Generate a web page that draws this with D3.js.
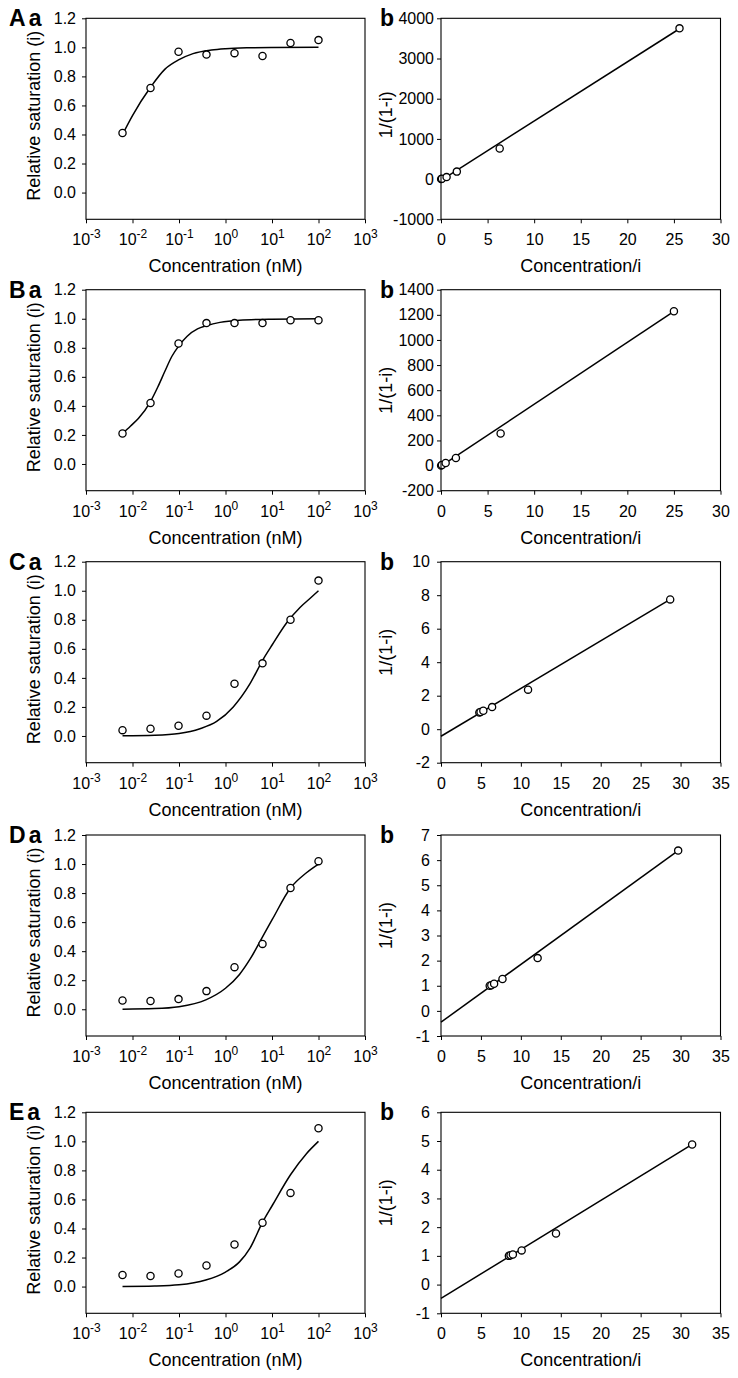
<!DOCTYPE html>
<html><head><meta charset="utf-8">
<script src="https://cdn.jsdelivr.net/npm/d3@7"></script>
<style>body{margin:0;background:#fff}svg{display:block}</style>
</head><body>
<svg id="chart" width="738" height="1378"></svg>
<script>
// ---------------- DATA ----------------
const panelLetters = ["A", "B", "C", "D", "E"];
const concentration = [0.0061, 0.0244, 0.0977, 0.39, 1.5625, 6.25, 25, 100];
const logTicks = [1e-3, 1e-2, 1e-1, 1e0, 1e1, 1e2, 1e3];
const satTicks = [0.0, 0.2, 0.4, 0.6, 0.8, 1.0, 1.2];

const satA = [0.41, 0.72, 0.97, 0.95, 0.96, 0.94, 1.03, 1.05];
const satB = [0.21, 0.42, 0.83, 0.97, 0.97, 0.97, 0.99, 0.99];
const satC = [0.04, 0.05, 0.07, 0.14, 0.36, 0.50, 0.80, 1.07];
const satD = [0.06, 0.057, 0.07, 0.125, 0.29, 0.45, 0.835, 1.02];
const satE = [0.08, 0.073, 0.09, 0.145, 0.29, 0.44, 0.645, 1.09];

// fitted curves: [concentration, saturation]
const fitA = [[0.0061,0.40],[0.01,0.53],[0.0244,0.725],[0.05,0.85],[0.1,0.915],[0.2,0.957],[0.5,0.982],[1,0.991],[3,0.997],[10,0.999],[100,1.0]];
const fitB = [[0.0061,0.21],[0.009,0.26],[0.0135,0.315],[0.0244,0.43],[0.035,0.53],[0.05,0.64],[0.07,0.74],[0.1,0.815],[0.15,0.88],[0.25,0.93],[0.39,0.952],[0.76,0.975],[2,0.99],[10,0.997],[100,1.0]];
const fitC = [[0.0061,0.001],[0.03,0.005],[0.1,0.017],[0.283,0.05],[0.645,0.10],[1.47,0.2],[3.37,0.36],[6.5,0.53],[10.2,0.63],[20.7,0.78],[40,0.885],[70,0.955],[100,1.0]];
const fitD = [[0.0061,0.001],[0.03,0.005],[0.1,0.018],[0.377,0.065],[1,0.145],[2,0.24],[3.37,0.345],[6.3,0.5],[10.2,0.62],[25,0.835],[55,0.94],[100,1.0]];
const fitE = [[0.0061,0.001],[0.03,0.004],[0.1,0.012],[0.377,0.045],[1,0.10],[2,0.17],[3.37,0.265],[6.2,0.44],[10.2,0.56],[25,0.77],[55,0.915],[100,1.0]];

// right panels: Concentration/i vs 1/(1-i)
const bxA = [0.015, 0.1, 0.6, 1.7, 6.3, 25.6];
const byA = [1, 8, 50, 186, 760, 3750];
const bxB = [0.015, 0.1, 0.5, 1.6, 6.4, 25.0];
const byB = [1, 5, 20, 60, 255, 1228];
const bxC = [4.8, 4.95, 5.3, 6.4, 10.9, 28.7];
const byC = [1.0, 1.03, 1.1, 1.32, 2.36, 7.75];
const bxD = [6.1, 6.3, 6.65, 7.7, 12.1, 29.7];
const byD = [1.0, 1.02, 1.08, 1.27, 2.1, 6.38];
const bxE = [8.5, 8.7, 9.0, 10.1, 14.4, 31.45];
const byE = [1.0, 1.02, 1.05, 1.19, 1.78, 4.88];

// regression lines: [x, y] endpoints
const lineA = [[0, -30], [25.6, 3740]];
const lineB = [[0, -5], [25.0, 1228]];
const lineC = [[0, -0.42], [28.7, 7.75]];
const lineD = [[0, -0.45], [29.7, 6.38]];
const lineE = [[0, -0.48], [31.45, 4.88]];

// axis domains and ticks for right panels
const bxDomains = [[0, 30], [0, 30], [0, 35], [0, 35], [0, 35]];
const byDomains = [[-1000, 4000], [-200, 1400], [-2, 10], [-1, 7], [-1, 6]];
const bxTicks = [[0,5,10,15,20,25,30],[0,5,10,15,20,25,30],[0,5,10,15,20,25,30,35],[0,5,10,15,20,25,30,35],[0,5,10,15,20,25,30,35]];
const byTicks = [[-1000,0,1000,2000,3000,4000],[-200,0,200,400,600,800,1000,1200,1400],[-2,0,2,4,6,8,10],[-1,0,1,2,3,4,5,6,7],[-1,0,1,2,3,4,5,6]];

const leftTitleX = "Concentration (nM)";
const leftTitleY = "Relative saturation (i)";
const rightTitleX = "Concentration/i";
const rightTitleY = "1/(1-i)";

// ---------------- LAYOUT ----------------
const sats = [satA, satB, satC, satD, satE];
const fits = [fitA, fitB, fitC, fitD, fitE];
const bxs = [bxA, bxB, bxC, bxD, bxE];
const bys = [byA, byB, byC, byD, byE];
const lines = [lineA, lineB, lineC, lineD, lineE];

const FONT = "'Liberation Sans', Arial, Helvetica, sans-serif";
const rowTop = [18.3, 289.7, 561.7, 835, 1112.3];
const PH = 201;
const LX = [86, 365];
const RX = [441, 720.5];
const rightYPad = [3, 3, 7, 7, 7];
const rightYLabelShift = [-4, 0, -10, -10, -10];
const TICKFS = 16;
const TITLEFS = 18;
const INK = "#000";

const svg = d3.select("#chart");

function styleAxis(g, fs) {
  g.select(".domain").remove();
  g.selectAll(".tick line").attr("stroke", INK).attr("stroke-width", 1);
  g.selectAll(".tick text").attr("font-family", FONT).attr("font-size", fs).attr("fill", INK);
}

function frame(x0, x1, y0, y1) {
  svg.append("rect").attr("x", x0).attr("y", y0).attr("width", x1 - x0).attr("height", y1 - y0)
    .attr("fill", "none").attr("stroke", INK).attr("stroke-width", 1.1);
}

panelLetters.forEach((letter, i) => {
  const top = rowTop[i], bottom = top + PH;

  // ---------- left panel (a) ----------
  const x = d3.scaleLog().domain([1e-3, 1e3]).range(LX);
  const y = d3.scaleLinear().domain([-0.184, 1.2]).range([bottom, top]);

  const gx = svg.append("g").attr("transform", `translate(0,${bottom})`)
    .call(d3.axisBottom(x).tickValues(logTicks).tickSize(4).tickFormat(() => ""));
  styleAxis(gx, TICKFS);
  gx.selectAll(".tick text").attr("y", 26).attr("dy", null).each(function(d) {
    const t = d3.select(this);
    t.append("tspan").text("10");
    t.append("tspan").attr("dy", -7).attr("font-size", 12).text(String(Math.round(Math.log10(d))));
  });

  const gy = svg.append("g").attr("transform", `translate(${LX[0]},0)`)
    .call(d3.axisLeft(y).tickValues(satTicks).tickSize(4).tickPadding(6).tickFormat(d3.format(".1f")));
  styleAxis(gy, TICKFS);

  svg.append("path").datum(fits[i])
    .attr("d", d3.line().x(d => x(d[0])).y(d => y(d[1])).curve(d3.curveMonotoneX))
    .attr("fill", "none").attr("stroke", INK).attr("stroke-width", 1.5);

  svg.append("g").selectAll("circle").data(concentration.map((c, k) => [c, sats[i][k]])).join("circle")
    .attr("cx", d => x(d[0])).attr("cy", d => y(d[1])).attr("r", 3.6)
    .attr("fill", "#fff").attr("stroke", INK).attr("stroke-width", 1.3);

  frame(LX[0], LX[1], top, bottom);

  svg.append("text").attr("x", (LX[0] + LX[1]) / 2).attr("y", bottom + 53)
    .attr("text-anchor", "middle").attr("font-family", FONT).attr("font-size", TITLEFS).attr("fill", INK)
    .text(leftTitleX);
  svg.append("text").attr("transform", `translate(40,${(top + bottom) / 2 - 3}) rotate(-90)`)
    .attr("text-anchor", "middle").attr("font-family", FONT).attr("font-size", TITLEFS).attr("fill", INK)
    .text(leftTitleY);

  const lt = svg.append("text").attr("x", 9).attr("y", top + 8)
    .attr("font-family", FONT).attr("font-size", 23).attr("font-weight", "bold").attr("fill", INK);
  lt.append("tspan").text(letter);
  lt.append("tspan").attr("dx", 3).text("a");

  // ---------- right panel (b) ----------
  const xr = d3.scaleLinear().domain(bxDomains[i]).range(RX);
  const yr = d3.scaleLinear().domain(byDomains[i]).range([bottom, top]);

  const gxr = svg.append("g").attr("transform", `translate(0,${bottom})`)
    .call(d3.axisBottom(xr).tickValues(bxTicks[i]).tickSize(4));
  styleAxis(gxr, TICKFS);
  gxr.selectAll(".tick text").attr("y", 26).attr("dy", null);

  const gyr = svg.append("g").attr("transform", `translate(${RX[0]},0)`)
    .call(d3.axisLeft(yr).tickValues(byTicks[i]).tickSize(4).tickPadding(rightYPad[i]).tickFormat(d3.format("d")));
  styleAxis(gyr, TICKFS);
  gyr.selectAll(".tick text").text(d => String(d));

  svg.append("path").datum(lines[i])
    .attr("d", d3.line().x(d => xr(d[0])).y(d => yr(d[1])))
    .attr("fill", "none").attr("stroke", INK).attr("stroke-width", 1.5);

  svg.append("g").selectAll("circle").data(bxs[i].map((v, k) => [v, bys[i][k]])).join("circle")
    .attr("cx", d => xr(d[0])).attr("cy", d => yr(d[1])).attr("r", 3.6)
    .attr("fill", "#fff").attr("stroke", INK).attr("stroke-width", 1.3);

  frame(RX[0], RX[1], top, bottom);

  svg.append("text").attr("x", (RX[0] + RX[1]) / 2).attr("y", bottom + 53)
    .attr("text-anchor", "middle").attr("font-family", FONT).attr("font-size", TITLEFS).attr("fill", INK)
    .text(rightTitleX);
  svg.append("text").attr("transform", `translate(392,${(top + bottom) / 2 + rightYLabelShift[i]}) rotate(-90)`)
    .attr("text-anchor", "middle").attr("font-family", FONT).attr("font-size", TITLEFS).attr("fill", INK)
    .text(rightTitleY);

  svg.append("text").attr("x", 380).attr("y", top + 8)
    .attr("font-family", FONT).attr("font-size", 23).attr("font-weight", "bold").attr("fill", INK)
    .text("b");
});
</script>
</body></html>
